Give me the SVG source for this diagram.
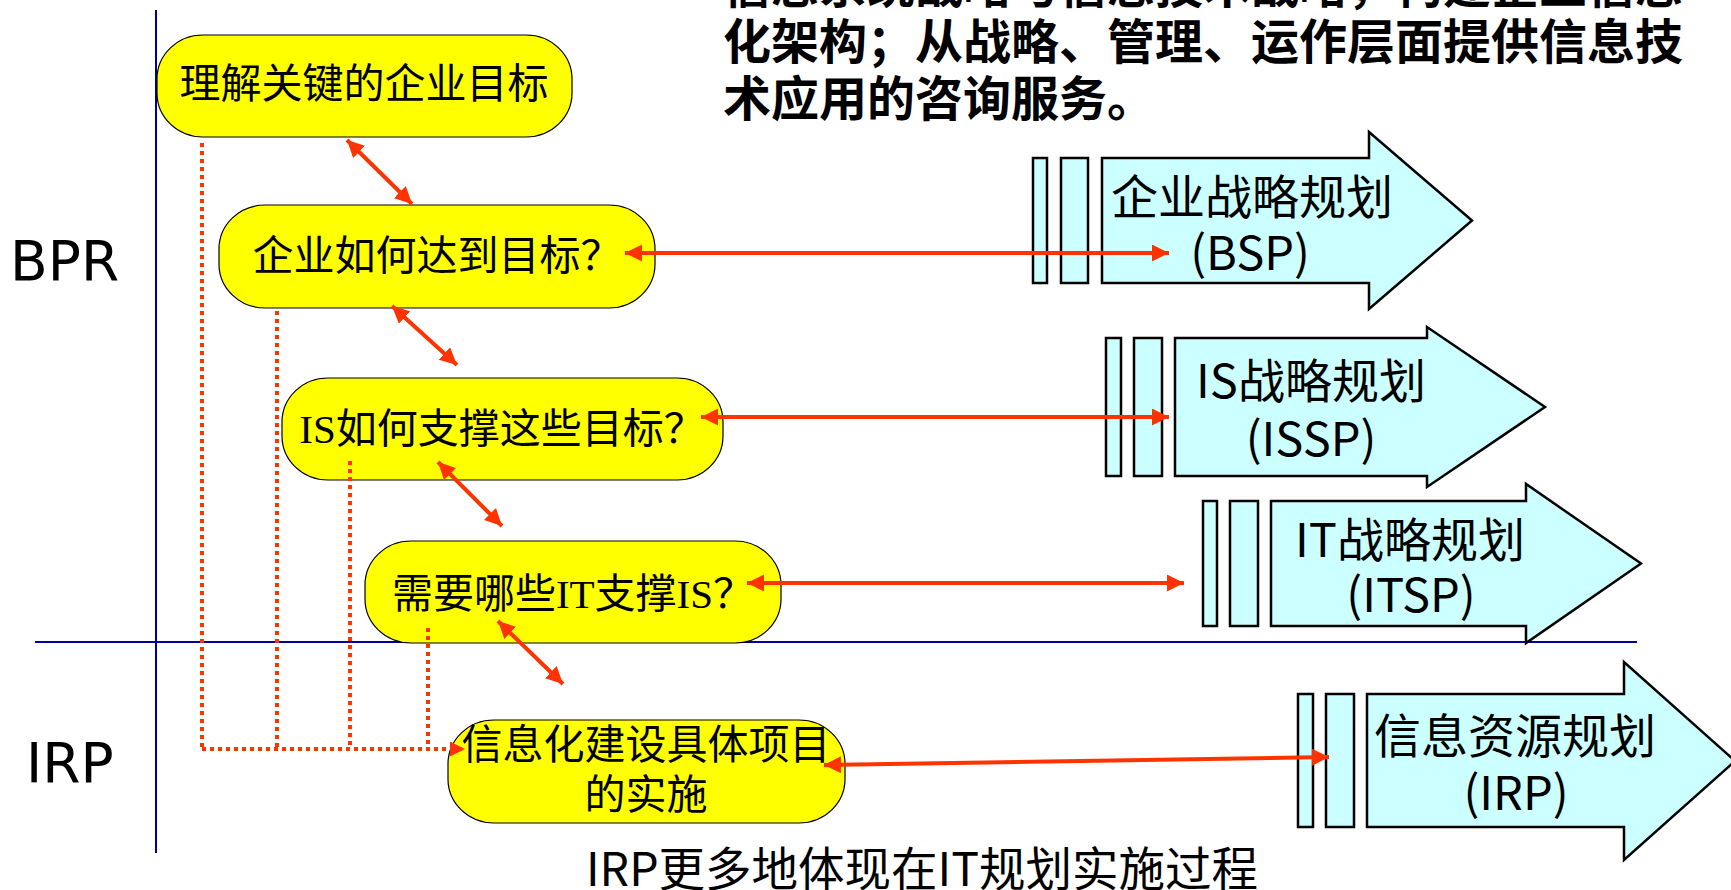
<svg xmlns="http://www.w3.org/2000/svg" width="1731" height="890" viewBox="0 0 1731 890">
  <defs>
    <style>
      .axis { stroke: #000099; stroke-width: 2; fill: none; }
      .node rect { fill: #FFFF00; stroke: #000000; stroke-width: 1.2; }
      .ntext { font-family: "Liberation Serif", "Noto Sans CJK SC", serif; font-size: 41px; fill: #000; text-anchor: middle; }
      .big { fill: #CCFFFF; stroke: #000; stroke-width: 2.5; }
      .atext { font-family: "Noto Sans CJK SC", sans-serif; font-size: 47px; fill: #000; text-anchor: middle; }
      .lbl { font-family: "DejaVu Sans", sans-serif; font-size: 55px; fill: #000; }
      .para { font-family: "Noto Sans CJK SC", sans-serif; font-size: 48px; font-weight: bold; fill: #000; }
      .solid { stroke: #FF3300; stroke-width: 4; fill: none; }
      .dot { stroke: #FF3300; stroke-width: 4; stroke-dasharray: 4 4; fill: none; }
    </style>
    <marker id="ah" markerUnits="userSpaceOnUse" markerWidth="18" markerHeight="18" refX="17" refY="8.5" orient="auto-start-reverse">
      <path d="M0,0 L17,8.5 L0,17 Z" fill="#FF3300"/>
    </marker>
    <marker id="ahd" markerUnits="userSpaceOnUse" markerWidth="16" markerHeight="16" refX="15" refY="7.5" orient="auto">
      <path d="M0,0 L15,7.5 L0,15 Z" fill="#FF3300"/>
    </marker>
  </defs>

  <!-- top paragraph (cut off at top) -->
  <g id="paragraph">
    <text class="para" x="723" y="3">信息系统战略与信息技术战略，构建企业信息</text>
    <text class="para" x="723" y="59">化架构；从战略、管理、运作层面提供信息技</text>
    <text class="para" x="723" y="116">术应用的咨询服务。</text>
  </g>

  <!-- axes -->
  <g id="axes">
    <line class="axis" x1="156" y1="10" x2="156" y2="853"/>
    <line class="axis" x1="35" y1="642" x2="1637" y2="642"/>
  </g>

  <g id="label-bpr"><text class="lbl" x="10" y="280">BPR</text></g>
  <g id="label-irp"><text class="lbl" x="26" y="782">IRP</text></g>

  <!-- big arrows -->
  <g id="arrow-bsp">
    <rect class="big" x="1033" y="158" width="14" height="125"/>
    <rect class="big" x="1061" y="158" width="27" height="125"/>
    <path class="big" d="M1102,158 L1369,158 L1369,132 L1472,220.5 L1369,309 L1369,283 L1102,283 Z"/>
    <text class="atext" x="1252" y="214">企业战略规划</text>
    <text class="atext" x="1250" y="270">(BSP)</text>
  </g>
  <g id="arrow-issp">
    <rect class="big" x="1106" y="338" width="15" height="138"/>
    <rect class="big" x="1134" y="338" width="28" height="138"/>
    <path class="big" d="M1175,338 L1427,338 L1427,327 L1545,407 L1427,487 L1427,476 L1175,476 Z"/>
    <text class="atext" x="1311" y="398">IS战略规划</text>
    <text class="atext" x="1311" y="456">(ISSP)</text>
  </g>
  <g id="arrow-itsp">
    <rect class="big" x="1203" y="501" width="14" height="125"/>
    <rect class="big" x="1230" y="501" width="28" height="125"/>
    <path class="big" d="M1271,501 L1526,501 L1526,484 L1641,563.5 L1526,643 L1526,626 L1271,626 Z"/>
    <text class="atext" x="1410" y="557">IT战略规划</text>
    <text class="atext" x="1411" y="612">(ITSP)</text>
  </g>
  <g id="arrow-irp">
    <rect class="big" x="1298" y="694" width="15" height="133"/>
    <rect class="big" x="1326" y="694" width="28" height="133"/>
    <path class="big" d="M1367,694 L1624,694 L1624,662 L1735,761 L1624,860 L1624,827 L1367,827 Z"/>
    <text class="atext" x="1515" y="753">信息资源规划</text>
    <text class="atext" x="1516" y="810">(IRP)</text>
  </g>

  <!-- nodes -->
  <g id="node-goal" class="node">
    <rect x="157" y="35" width="415" height="102" rx="46" ry="44"/>
    <text class="ntext" x="364" y="98">理解关键的企业目标</text>
  </g>
  <g id="node-how" class="node">
    <rect x="219" y="205" width="436" height="103" rx="46" ry="44"/>
    <text class="ntext" x="437" y="270">企业如何达到目标？</text>
  </g>
  <g id="node-is" class="node">
    <rect x="282" y="378" width="441" height="102" rx="46" ry="44"/>
    <text class="ntext" x="502" y="443">IS如何支撑这些目标？</text>
  </g>
  <g id="node-it" class="node">
    <rect x="365" y="541" width="416" height="102" rx="46" ry="44"/>
    <text class="ntext" x="573" y="608">需要哪些IT支撑IS？</text>
  </g>
  <g id="node-impl" class="node">
    <rect x="448" y="720" width="397" height="103" rx="46" ry="44"/>
    <text class="ntext" x="646" y="759">信息化建设具体项目</text>
    <text class="ntext" x="646" y="809">的实施</text>
  </g>

  <!-- connectors -->
  <g id="connectors">
    <line class="solid" x1="347" y1="140" x2="412" y2="204" marker-start="url(#ah)" marker-end="url(#ah)"/>
    <line class="solid" x1="392" y1="306" x2="457" y2="365" marker-start="url(#ah)" marker-end="url(#ah)"/>
    <line class="solid" x1="438" y1="462" x2="502" y2="526" marker-start="url(#ah)" marker-end="url(#ah)"/>
    <line class="solid" x1="498" y1="621" x2="563" y2="684" marker-start="url(#ah)" marker-end="url(#ah)"/>
    <line class="solid" x1="625" y1="253" x2="1169" y2="253" marker-start="url(#ah)" marker-end="url(#ah)"/>
    <line class="solid" x1="701" y1="417" x2="1169" y2="417" marker-start="url(#ah)" marker-end="url(#ah)"/>
    <line class="solid" x1="747" y1="583" x2="1184" y2="583" marker-start="url(#ah)" marker-end="url(#ah)"/>
    <line class="solid" x1="824" y1="765" x2="1329" y2="757" marker-start="url(#ah)" marker-end="url(#ah)"/>
    <path class="dot" d="M202,143 L202,749 M277,311 L277,749 M350,461 L350,749 M428,628 L428,749"/>
    <line class="dot" x1="202" y1="749" x2="465" y2="749" marker-end="url(#ahd)"/>
  </g>

  <g id="caption">
    <text x="586" y="886" font-family="Noto Sans CJK SC, sans-serif" font-size="46.5" fill="#000">IRP更多地体现在IT规划实施过程</text>
  </g>
</svg>
